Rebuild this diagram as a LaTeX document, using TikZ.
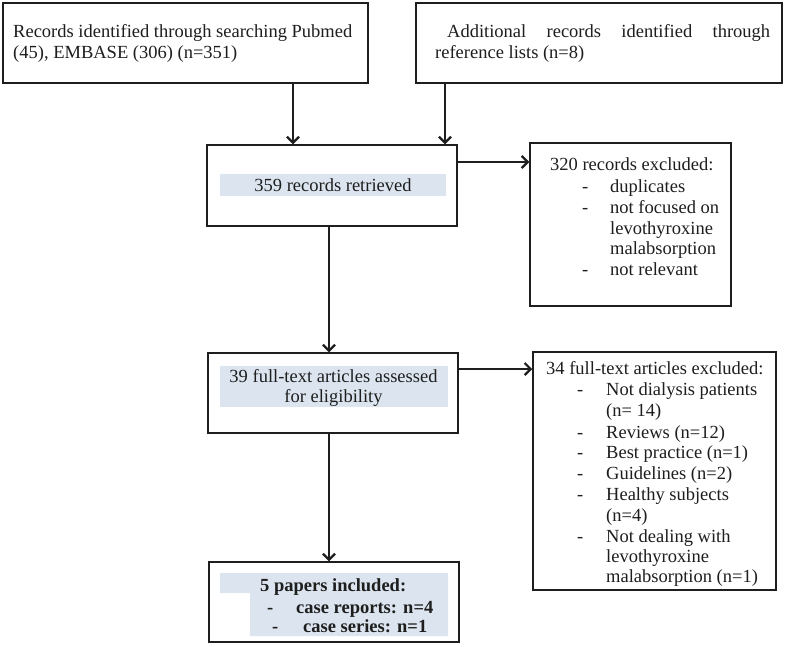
\documentclass[tikz,border=0pt]{standalone}
\usepackage{fontspec}
\setmainfont{Liberation Serif}
\usetikzlibrary{arrows.meta}
\definecolor{band}{RGB}{220,229,239}
\definecolor{ink}{RGB}{30,30,30}
\tikzset{
  box/.style={draw=ink, line width=1.5pt, rectangle, inner sep=0pt},
  txt/.style={anchor=base west, inner sep=0pt, text=ink, font=\fontsize{18.5}{21}\selectfont},
  ctxt/.style={anchor=base, inner sep=0pt, text=ink, font=\fontsize{18.5}{21}\selectfont},
  btxt/.style={anchor=base west, inner sep=0pt, text=ink, font=\fontsize{18.5}{21}\selectfont\bfseries},
  arr/.style={draw=ink, line width=1.4pt, -{Straight Barb[length=6pt,width=12pt,line width=2.2pt]}}
}
\begin{document}
\begin{tikzpicture}[x=1pt,y=-1pt]
\useasboundingbox (0,0) rectangle (785,646);
\fill[white] (0,0) rectangle (785,646);
% highlight bands
\fill[band] (220,174) rectangle (446,196);
\fill[band] (220,366) rectangle (448,407);
\fill[band] (220,573) -- (448,573) -- (448,636) -- (250,636) -- (250,593) -- (220,593) -- cycle;
% boxes
\node[box, minimum width=365pt, minimum height=80pt] (A) at (185.5,43) {};
\node[box, minimum width=366pt, minimum height=80pt] (B) at (599,43) {};
\node[box, minimum width=250pt, minimum height=81pt] (C) at (332,185.5) {};
\node[box, minimum width=201pt, minimum height=163pt] (D) at (630.5,224.5) {};
\node[box, minimum width=250pt, minimum height=80pt] (E) at (333,393) {};
\node[box, minimum width=243pt, minimum height=238pt] (F) at (654.5,471) {};
\node[box, minimum width=250pt, minimum height=80pt] (G) at (334,602) {};
% texts A
\node[txt] (a1) at (13,37) {Records identified through searching Pubmed};
\node[txt] (a2) at (13,58) {(45), EMBASE (306) (n=351)};
% texts B
\node[txt] (b1) at (447,37) {\makebox[323pt][s]{Additional records identified through}};
\node[txt] (b2) at (435,58) {reference lists (n=8)};
% text C
\node[ctxt] (c1) at (333,191) {359 records retrieved};
% texts D
\node[txt] (d0) at (550,170) {320 records excluded:};
\node[txt] (dd1) at (582,192) {-};
\node[txt] (d1) at (610,192) {duplicates};
\node[txt] (dd2) at (582,213) {-};
\node[txt] (d2) at (610,213) {not focused on};
\node[txt] (d3) at (610,234) {levothyroxine};
\node[txt] (d4) at (610,254) {malabsorption};
\node[txt] (dd5) at (582,275) {-};
\node[txt] (d5) at (610,275) {not relevant};
% texts E
\node[ctxt] (e1) at (333.5,382) {39 full-text articles assessed};
\node[ctxt] (e2) at (333.5,402) {for eligibility};
% texts F
\node[txt] (f0) at (546,374) {34 full-text articles excluded:};
\node[txt] (fd1) at (577,395) {-};
\node[txt] (f1) at (606,395) {Not dialysis patients};
\node[txt] (f2) at (606,416) {(n= 14)};
\node[txt] (fd3) at (577,438) {-};
\node[txt] (f3) at (606,438) {Reviews (n=12)};
\node[txt] (fd4) at (577,458) {-};
\node[txt] (f4) at (606,458) {Best practice (n=1)};
\node[txt] (fd5) at (577,479) {-};
\node[txt] (f5) at (606,479) {Guidelines (n=2)};
\node[txt] (fd6) at (577,500) {-};
\node[txt] (f6) at (606,500) {Healthy subjects};
\node[txt] (f7) at (606,521) {(n=4)};
\node[txt] (fd8) at (577,542) {-};
\node[txt] (f8) at (606,542) {Not dealing with};
\node[txt] (f9) at (606,562) {levothyroxine};
\node[txt] (f10) at (606,582) {malabsorption (n=1)};
% texts G
\node[btxt] (g0) at (260,591) {5 papers included:};
\node[btxt] (gd1) at (267,613) {-};
\node[btxt] (g1) at (296,613) {case reports: n=4};
\node[btxt] (gd2) at (272,632) {-};
\node[btxt] (g2) at (303,632) {case series: n=1};
% connectors
\coordinate (xa) at (293,0);
\coordinate (xb) at (445,0);
\coordinate (xc) at (329,0);
\coordinate (yc) at (0,162);
\coordinate (ye) at (0,369);
\draw[arr] (A.south -| xa) -- (C.north -| xa);
\draw[arr] (B.south -| xb) -- (C.north -| xb);
\draw[arr] (C.east |- yc) -- (D.west |- yc);
\draw[arr] (C.south -| xc) -- (E.north -| xc);
\draw[arr] (E.east |- ye) -- (F.west |- ye);
\draw[arr] (E.south -| xc) -- (G.north -| xc);
\end{tikzpicture}
\end{document}
